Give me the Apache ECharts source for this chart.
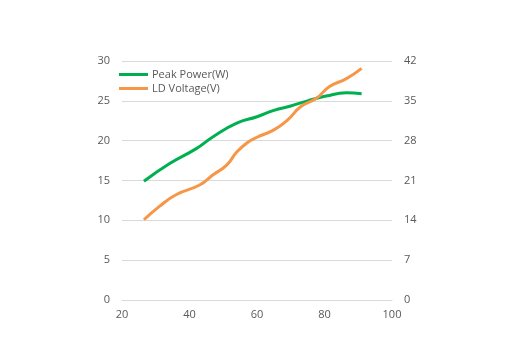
<!DOCTYPE html>
<html><head><meta charset="utf-8">
<script src="https://cdn.jsdelivr.net/npm/echarts@6/dist/echarts.min.js"></script>
<style>html,body{margin:0;padding:0;background:#fff}#c{width:511px;height:357px}</style>
</head><body><div id="c"></div>
<script>
const powerX = [26.5, 34, 42, 47, 54, 60, 65, 70, 75, 80.5, 86.5, 91];
const powerY = [14.9, 17.1, 19.0, 20.5, 22.2, 23.0, 23.8, 24.35, 25.0, 25.6, 26.0, 25.9];
const voltX = [26.5, 31, 36, 43, 47, 51, 54, 57, 60, 65, 69, 73, 77.5, 81.5, 86.5, 91];
const voltY = [14.1, 16.4, 18.5, 20.2, 22.0, 23.7, 26.0, 27.6, 28.6, 29.9, 31.6, 34.0, 35.4, 37.5, 38.9, 40.7];
const leftTicks = [0, 30, 5];
const rightTicks = [0, 42, 7];
const xTicks = [20, 100, 20];

const chart = echarts.init(document.getElementById('c'));
const lbl = {color:'#595959', fontSize:11, fontFamily:'Open Sans, sans-serif'};
chart.setOption({
  animation:false,
  grid:{left:122, right:119, top:61, bottom:57},
  legend:{orient:'vertical', left:114, top:64, itemGap:3, itemWidth:29, itemHeight:3, icon:'rect', itemStyle:{borderWidth:0},
    textStyle:{color:'#595959', fontSize:11, fontFamily:'Open Sans, sans-serif', padding:[0,0,0,-1]},
    data:['Peak Power(W)','LD Voltage(V)']},
  xAxis:{type:'value', min:xTicks[0], max:xTicks[1], interval:xTicks[2],
    axisLine:{show:true, lineStyle:{color:'#d9d9d9'}}, axisTick:{show:false}, splitLine:{show:false},
    axisLabel:Object.assign({margin:9}, lbl)},
  yAxis:[
    {type:'value', min:leftTicks[0], max:leftTicks[1], interval:leftTicks[2],
     axisLine:{show:false}, axisTick:{show:false}, splitLine:{lineStyle:{color:'#d9d9d9'}},
     axisLabel:Object.assign({margin:12}, lbl)},
    {type:'value', min:rightTicks[0], max:rightTicks[1], interval:rightTicks[2],
     axisLine:{show:false}, axisTick:{show:false}, splitLine:{show:false},
     axisLabel:Object.assign({margin:12}, lbl)}
  ],
  series:[
    {name:'Peak Power(W)', type:'line', yAxisIndex:0, smooth:true, symbol:'none',
     lineStyle:{color:'#00b050', width:3}, itemStyle:{color:'#00b050'},
     data:powerX.map((x,i)=>[x,powerY[i]])},
    {name:'LD Voltage(V)', type:'line', yAxisIndex:1, smooth:true, symbol:'none',
     lineStyle:{color:'#f79646', width:3}, itemStyle:{color:'#f79646'},
     data:voltX.map((x,i)=>[x,voltY[i]])}
  ]
});
</script></body></html>
